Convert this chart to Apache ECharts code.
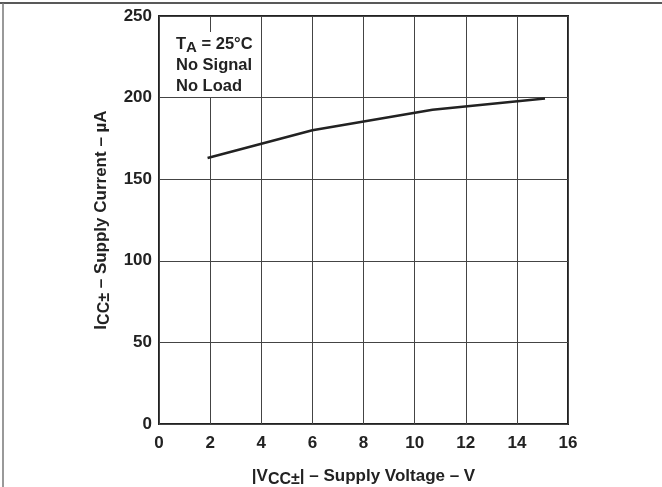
<!DOCTYPE html>
<html><head><meta charset="utf-8">
<script src="https://cdn.jsdelivr.net/npm/echarts@6/dist/echarts.min.js"></script>
<style>html,body{margin:0;padding:0;background:#fff}#c{width:662px;height:487px}</style>
</head><body><div id="c"></div>
<script>
const voltage = [1.9, 6.0, 10.7, 15.1];
const current = [163, 180, 192.5, 199.5];
const xTicks = [0, 2, 4, 6, 8, 10, 12, 14, 16];
const yTicks = [0, 50, 100, 150, 200, 250];

const F = '"Liberation Sans", Arial, sans-serif';
const chart = echarts.init(document.getElementById('c'));
chart.setOption({
  animation: false,
  grid: { left: 159, right: 94, top: 16, bottom: 63, containLabel: false, outerBoundsMode: 'none',
          show: true, borderColor: '#222', borderWidth: 2 },
  xAxis: {
    type: 'value', min: xTicks[0], max: xTicks[xTicks.length-1], interval: 2,
    axisLine: { show: false }, axisTick: { show: false },
    splitLine: { show: true, lineStyle: { color: '#444', width: 1 } },
    axisLabel: { color: '#222', fontFamily: F, fontWeight: 'bold', fontSize: 17, margin: 11 },
    name: '{b||V}{s|CC±}{b|| – Supply Voltage – V}', nameLocation: 'middle', nameGap: 41,
    nameTextStyle: { rich: {
      b: { color: '#222', fontFamily: F, fontWeight: 'bold', fontSize: 17 },
      s: { color: '#222', fontFamily: F, fontWeight: 'bold', fontSize: 16, padding: [7,0,0,0] }
    } }
  },
  yAxis: {
    type: 'value', min: yTicks[0], max: yTicks[yTicks.length-1], interval: 50,
    axisLine: { show: false }, axisTick: { show: false },
    splitLine: { show: true, lineStyle: { color: '#444', width: 1 } },
    axisLabel: { color: '#222', fontFamily: F, fontWeight: 'bold', fontSize: 17, margin: 7 },
    name: '{b|I}{s|CC±}{b| – Supply Current – µA}', nameLocation: 'middle', nameGap: 45, nameRotate: 90,
    nameTextStyle: { rich: {
      b: { color: '#222', fontFamily: F, fontWeight: 'bold', fontSize: 17 },
      s: { color: '#222', fontFamily: F, fontWeight: 'bold', fontSize: 16, padding: [7,0,0,0] }
    } }
  },
  series: [{
    type: 'line', data: voltage.map((v,i)=>[v, current[i]]),
    showSymbol: false, lineStyle: { color: '#222', width: 2.5 }
  }],
  graphic: [
    { type: 'line', shape: { x1: 0, y1: 3, x2: 662, y2: 3 }, style: { stroke: '#222', lineWidth: 1.5 } },
    { type: 'line', shape: { x1: 3, y1: 3, x2: 3, y2: 487 }, style: { stroke: '#777', lineWidth: 1.5 } },
    { type: 'text', left: 172, top: 32, z: 10, style: {
      text: '{b|T}{s|A}{b| = 25°C}\n{b|No Signal}\n{b|No Load}',
      backgroundColor: '#fff', padding: [2, 4, 0, 4],
      rich: {
        b: { fill: '#222', font: 'bold 16.5px ' + F, lineHeight: 21 },
        s: { fill: '#222', font: 'bold 15px ' + F, lineHeight: 21, padding: [7,0,0,0] }
      }
    } }
  ]
});
</script></body></html>
